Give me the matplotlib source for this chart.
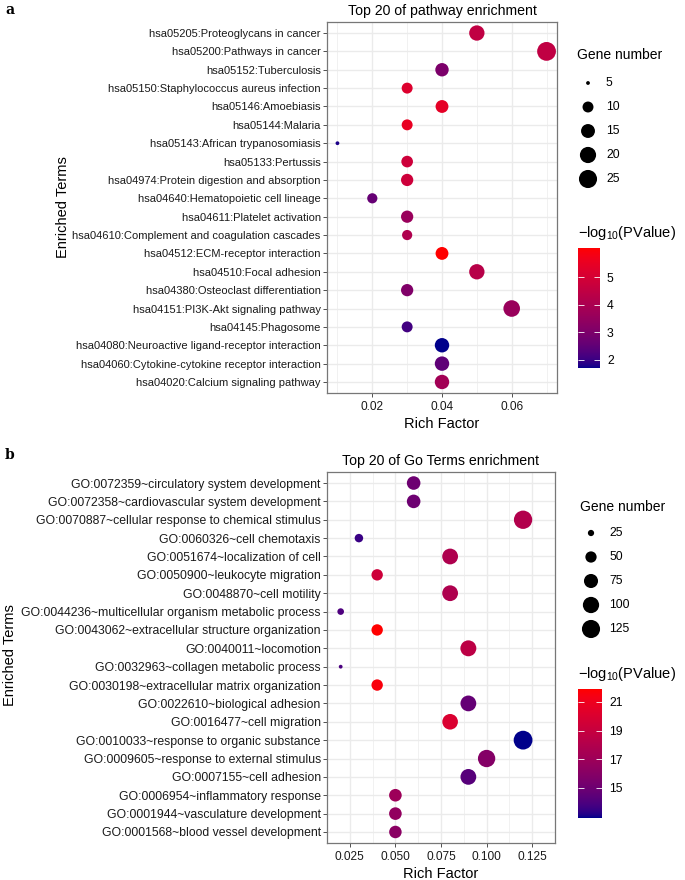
import numpy as np
import matplotlib
matplotlib.use('Agg')
import matplotlib.pyplot as plt
from matplotlib.colors import ListedColormap, Normalize
from matplotlib.cm import ScalarMappable
from matplotlib.ticker import FormatStrFormatter

plt.rcParams['font.family'] = ['Liberation Sans', 'DejaVu Sans']
plt.rcParams['mathtext.fontset'] = 'custom'
plt.rcParams['mathtext.rm'] = 'Liberation Sans'
plt.rcParams['mathtext.default'] = 'regular'

# ---- panel a: KEGG pathways (top to bottom) ----
kegg_terms = [
    'hsa05205:Proteoglycans in cancer',
    'hsa05200:Pathways in cancer',
    'hsa05152:Tuberculosis',
    'hsa05150:Staphylococcus aureus infection',
    'hsa05146:Amoebiasis',
    'hsa05144:Malaria',
    'hsa05143:African trypanosomiasis',
    'hsa05133:Pertussis',
    'hsa04974:Protein digestion and absorption',
    'hsa04640:Hematopoietic cell lineage',
    'hsa04611:Platelet activation',
    'hsa04610:Complement and coagulation cascades',
    'hsa04512:ECM-receptor interaction',
    'hsa04510:Focal adhesion',
    'hsa04380:Osteoclast differentiation',
    'hsa04151:PI3K-Akt signaling pathway',
    'hsa04145:Phagosome',
    'hsa04080:Neuroactive ligand-receptor interaction',
    'hsa04060:Cytokine-cytokine receptor interaction',
    'hsa04020:Calcium signaling pathway',
]
kegg_rich = [0.05, 0.07, 0.04, 0.03, 0.04, 0.03, 0.01, 0.03, 0.03, 0.02,
             0.03, 0.03, 0.04, 0.05, 0.03, 0.06, 0.03, 0.04, 0.04, 0.04]
kegg_count = [18, 27, 14, 10, 13, 10, 5, 11, 12, 9,
              12, 9, 13, 18, 12, 21, 10, 16, 16, 16]
kegg_logp = [4.5, 4.5, 3.0, 5.2, 5.4, 5.5, 1.8, 4.8, 4.8, 2.6,
             3.6, 4.1, 6.05, 4.3, 3.1, 3.6, 2.1, 1.71, 2.5, 3.8]
kegg_xticks = [0.02, 0.04, 0.06]
kegg_size_breaks = [5, 10, 15, 20, 25]
kegg_color_breaks = [2, 3, 4, 5]

# ---- panel b: GO terms (top to bottom) ----
go_terms = [
    'GO:0072359~circulatory system development',
    'GO:0072358~cardiovascular system development',
    'GO:0070887~cellular response to chemical stimulus',
    'GO:0060326~cell chemotaxis',
    'GO:0051674~localization of cell',
    'GO:0050900~leukocyte migration',
    'GO:0048870~cell motility',
    'GO:0044236~multicellular organism metabolic process',
    'GO:0043062~extracellular structure organization',
    'GO:0040011~locomotion',
    'GO:0032963~collagen metabolic process',
    'GO:0030198~extracellular matrix organization',
    'GO:0022610~biological adhesion',
    'GO:0016477~cell migration',
    'GO:0010033~response to organic substance',
    'GO:0009605~response to external stimulus',
    'GO:0007155~cell adhesion',
    'GO:0006954~inflammatory response',
    'GO:0001944~vasculature development',
    'GO:0001568~blood vessel development',
]
go_rich = [0.06, 0.06, 0.12, 0.03, 0.08, 0.04, 0.08, 0.02, 0.04, 0.09,
           0.02, 0.04, 0.09, 0.08, 0.12, 0.10, 0.09, 0.05, 0.05, 0.05]
go_count = [70, 70, 128, 33, 94, 51, 94, 26, 51, 96,
            22, 51, 94, 92, 135, 114, 94, 61, 61, 60]
go_logp = [15.0, 15.0, 18.0, 13.5, 17.8, 19.3, 17.8, 14.0, 21.9, 18.5,
           13.9, 21.6, 14.7, 20.0, 12.9, 15.9, 14.3, 17.0, 16.5, 16.2]
go_xticks = [0.025, 0.050, 0.075, 0.100, 0.125]
go_size_breaks = [25, 50, 75, 100, 125]
go_color_breaks = [15, 17, 19, 21]

W, H = 685, 880


def rect(x0, y0, x1, y1):
    # pixel box -> figure fraction
    return [x0 / W, 1 - y1 / H, (x1 - x0) / W, (y1 - y0) / H]


# ggplot-like gradient (interpolated in CIELAB) from blue4 to red
M = np.array([[0.4124, 0.3576, 0.1805],
              [0.2126, 0.7152, 0.0722],
              [0.0193, 0.1192, 0.9505]])
WHITE = np.array([0.95047, 1.0, 1.08883])


def to_lab(c):
    c = np.asarray(c, float)
    lin = np.where(c <= 0.04045, c / 12.92, ((c + 0.055) / 1.055) ** 2.4)
    xyz = M @ lin / WHITE
    f = np.where(xyz > (6 / 29) ** 3, np.cbrt(xyz), xyz / (3 * (6 / 29) ** 2) + 4 / 29)
    return np.array([116 * f[1] - 16, 500 * (f[0] - f[1]), 200 * (f[1] - f[2])])


def from_lab(lab):
    fy = (lab[0] + 16) / 116
    f = np.array([fy + lab[1] / 500, fy, fy - lab[2] / 200])
    xyz = np.where(f > 6 / 29, f ** 3, 3 * (6 / 29) ** 2 * (f - 4 / 29)) * WHITE
    lin = np.clip(np.linalg.solve(M, xyz), 0, 1)
    c = np.where(lin <= 0.0031308, 12.92 * lin, 1.055 * lin ** (1 / 2.4) - 0.055)
    return np.clip(c, 0, 1)


lo_lab = to_lab([0, 0, 0x8B / 255])
hi_lab = to_lab([1, 0, 0])
cmap = ListedColormap([from_lab(lo_lab + t * (hi_lab - lo_lab)) for t in np.linspace(0, 1, 256)])

DMIN, DMAX = 3.8, 18.8  # point diameter range in px


def diam(n, lo, hi):
    return DMIN + (DMAX - DMIN) * np.sqrt((np.asarray(n, float) - lo) / (hi - lo))


def panel(box, terms, rich, count, logp, xticks, xfmt, ysize, title, letter, letter_y,
          ylab_x, ylab_y, size_breaks, size_box, size_title_y, color_breaks, cbar_box):
    ax = fig.add_axes(rect(*box))
    lo, hi = min(count), max(count)
    norm = Normalize(min(logp), max(logp))
    y = np.arange(len(terms))
    s = (diam(count, lo, hi) * 72 / 100) ** 2
    ax.scatter(rich, y, s=s, c=logp, cmap=cmap, norm=norm, linewidths=0, zorder=3)

    rng = max(rich) - min(rich)
    ax.set_xlim(min(rich) - 0.05 * rng, max(rich) + 0.05 * rng)
    ax.set_ylim(len(terms) - 0.4, -0.6)
    ax.set_xticks(xticks)
    step = xticks[1] - xticks[0]
    ax.set_xticks(np.arange(xticks[0] - step / 2, xticks[-1] + step, step), minor=True)
    ax.xaxis.set_major_formatter(FormatStrFormatter(xfmt))
    ax.set_yticks(y)
    ax.set_yticklabels(terms)
    ax.grid(True, which='major', color='#EBEBEB', lw=1.0)
    ax.grid(True, which='minor', axis='x', color='#EBEBEB', lw=0.5)
    ax.set_axisbelow(True)
    ax.tick_params(which='major', length=3, width=0.6, color='#333333',
                   labelcolor='#1a1a1a')
    ax.tick_params(axis='x', labelsize=8.6, pad=3)
    ax.tick_params(axis='y', labelsize=ysize, pad=1.5)
    ax.tick_params(which='minor', length=0)
    for sp in ax.spines.values():
        sp.set_color('#777777')
        sp.set_linewidth(0.9)
    ax.set_title(title, fontsize=10.2, pad=5)
    ax.set_xlabel('Rich Factor', fontsize=10.5, labelpad=2.5)
    fig.text(ylab_x / W, 1 - ylab_y / H, 'Enriched Terms', rotation=90,
             fontsize=10.5, ha='center', va='center')
    fig.text(5 / W, 1 - letter_y / H, letter, family='DejaVu Serif',
             fontweight='bold', fontsize=10, va='center')

    # size legend
    fig.text(size_box[0] / W, 1 - size_title_y / H, 'Gene number', fontsize=10, va='center')
    lax = fig.add_axes(rect(*size_box))
    lax.axis('off')
    ky = np.arange(len(size_breaks))
    lax.set_xlim(0, size_box[2] - size_box[0])
    lax.set_ylim(len(size_breaks) - 0.5, -0.5)
    lax.scatter(np.full(len(ky), 11), ky, s=(diam(size_breaks, lo, hi) * 0.72) ** 2,
                color='black', linewidths=0)
    for k, b in zip(ky, size_breaks):
        lax.text(29, k, str(b), fontsize=8.8, va='center')

    # colour bar
    fig.text(cbar_box[0] / W, 1 - (cbar_box[1] - 15) / H, r'$-log_{10}$(PValue)',
             fontsize=10.5, va='center')
    cax = fig.add_axes(rect(*cbar_box))
    cb = fig.colorbar(ScalarMappable(norm=norm, cmap=cmap), cax=cax, ticks=color_breaks)
    cb.outline.set_visible(False)
    cax.tick_params(direction='in', length=4, width=0.6, color='white',
                    left=True, right=True, labelsize=8.8, pad=5)
    return ax


fig = plt.figure(figsize=(W / 100, H / 100), dpi=100)

panel((327, 22, 557, 393), kegg_terms, kegg_rich, kegg_count, kegg_logp,
      kegg_xticks, '%.2f', 8.0, 'Top 20 of pathway enrichment', 'a', 10,
      63, 207, kegg_size_breaks, (577, 71, 640, 191), 55,
      kegg_color_breaks, (578, 248, 600, 368))

panel((327, 472, 555, 843), go_terms, go_rich, go_count, go_logp,
      go_xticks, '%.3f', 8.85, 'Top 20 of Go Terms enrichment', 'b', 455,
      10, 655, go_size_breaks, (580, 521, 643, 641), 507,
      go_color_breaks, (578, 689, 602, 818))

fig.savefig('out.png', dpi=100, facecolor='white')
